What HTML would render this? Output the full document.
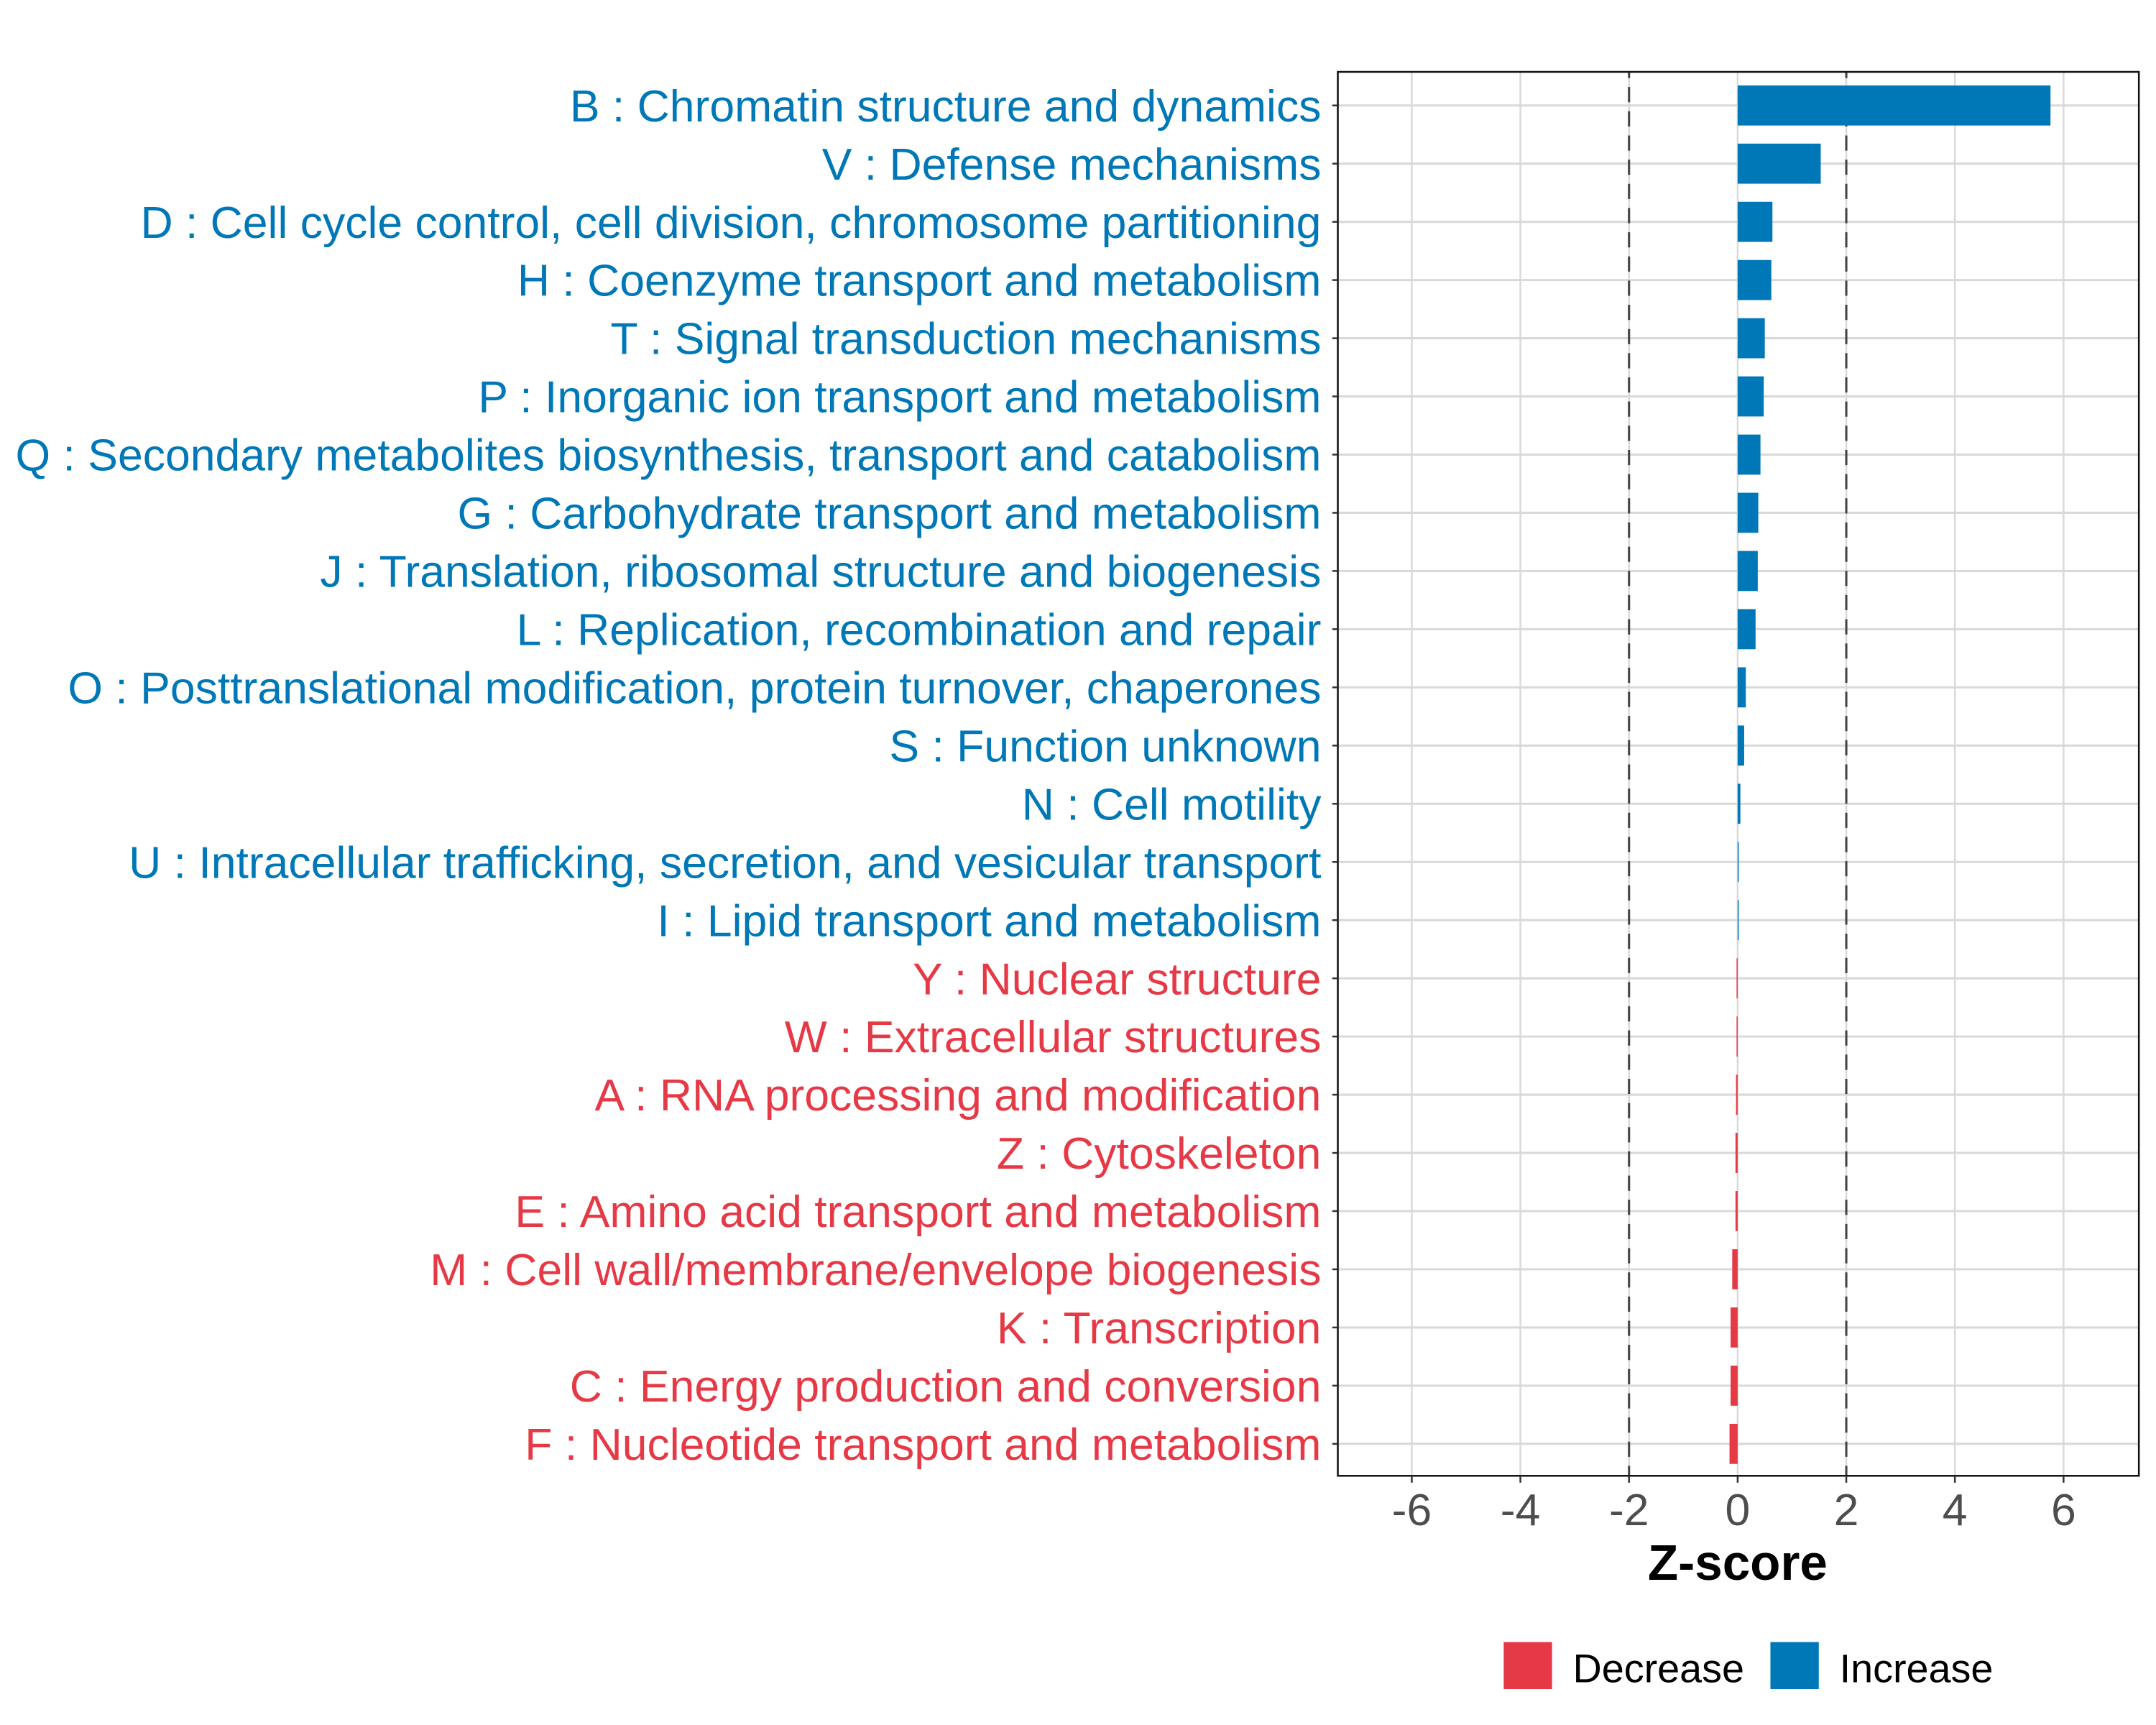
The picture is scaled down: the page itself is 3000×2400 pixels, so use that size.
<!DOCTYPE html>
<html><head><meta charset="utf-8"><style>
html,body{margin:0;padding:0;background:#fff;}
svg{display:block;}
text{font-family:"Liberation Sans",Arial,sans-serif;}
</style></head><body>
<svg id="chart" width="3000" height="2400" viewBox="0 0 1560 1248" preserveAspectRatio="none" xmlns="http://www.w3.org/2000/svg"></svg>
<script>
const categories = ["B : Chromatin structure and dynamics","V : Defense mechanisms","D : Cell cycle control, cell division, chromosome partitioning","H : Coenzyme transport and metabolism","T : Signal transduction mechanisms","P : Inorganic ion transport and metabolism","Q : Secondary metabolites biosynthesis, transport and catabolism","G : Carbohydrate transport and metabolism","J : Translation, ribosomal structure and biogenesis","L : Replication, recombination and repair","O : Posttranslational modification, protein turnover, chaperones","S : Function unknown","N : Cell motility","U : Intracellular trafficking, secretion, and vesicular transport","I : Lipid transport and metabolism","Y : Nuclear structure","W : Extracellular structures","A : RNA processing and modification","Z : Cytoskeleton","E : Amino acid transport and metabolism","M : Cell wall/membrane/envelope biogenesis","K : Transcription","C : Energy production and conversion","F : Nucleotide transport and metabolism"];
const zscores = [5.76,1.53,0.64,0.62,0.5,0.48,0.42,0.38,0.37,0.33,0.15,0.12,0.05,0.02,0.02,-0.02,-0.02,-0.03,-0.04,-0.04,-0.1,-0.13,-0.13,-0.15];
const xTicks = [-6,-4,-2,0,2,4,6];
const thresholds = [-2,2];
const legendLabels = ["Decrease","Increase"];

const NS="http://www.w3.org/2000/svg";
const svg=document.getElementById('chart');
const P={l:968,r:1547.6,t:52,b:1067.7};
const X0=1257.3, UNIT=39.3;
function xs(v){return X0+v*UNIT;}
const ROW0=76.3, ROWSTEP=42.1;
function ys(i){return ROW0+i*ROWSTEP;}
const BLUE="#0077B6", RED="#E63946";
function mk(tag,attrs,parent){const e=document.createElementNS(NS,tag);for(const k in attrs)e.setAttribute(k,attrs[k]);(parent||svg).appendChild(e);return e;}

const grid=mk('g',{});


xTicks.forEach(t=>{mk('line',{x1:xs(t),x2:xs(t),y1:P.t,y2:P.b,stroke:'#d9d9d9','stroke-width':1.3},grid);});
categories.forEach((c,i)=>{mk('line',{x1:P.l,x2:P.r,y1:ys(i),y2:ys(i),stroke:'#d9d9d9','stroke-width':1.6},grid);});

const dl=mk('g',{});


thresholds.forEach(t=>{mk('line',{x1:xs(t),x2:xs(t),y1:P.t,y2:P.b,stroke:'#444','stroke-width':1.6,'stroke-dasharray':'11 6.5','stroke-dashoffset':'-11'},dl);});

const bars=mk('g',{});


const BH=29;
zscores.forEach((v,i)=>{
  const x=Math.min(xs(0),xs(v)), w=Math.max(Math.abs(xs(v)-xs(0)),0.6);
  const r=mk('rect',{x:x,y:ys(i)-BH/2,width:w,height:BH,fill:v>=0?BLUE:RED},bars);
  
  
});

const frame=mk('rect',{x:P.l,y:P.t,width:P.r-P.l,height:P.b-P.t,fill:'none',stroke:'#111','stroke-width':1.3});



const yl=mk('g',{});


categories.forEach((c,i)=>{
  mk('line',{x1:P.l-4,x2:P.l,y1:ys(i),y2:ys(i),stroke:'#333','stroke-width':1.3},yl);
  const t=mk('text',{x:956,y:ys(i)+11.5,'text-anchor':'end','font-size':32.5,fill:zscores[i]>=0?BLUE:RED},yl);
  t.textContent=c;
  
  
});

const xl=mk('g',{});


xTicks.forEach(t=>{
  mk('line',{x1:xs(t),x2:xs(t),y1:P.b,y2:P.b+5,stroke:'#333','stroke-width':1.3},xl);
  const tx=mk('text',{x:xs(t),y:1103.5,'text-anchor':'middle','font-size':32.5,fill:'#4d4d4d'},xl);
  tx.textContent=t;
  
  
});
const xt=mk('text',{x:xs(0),y:1143,'text-anchor':'middle','font-size':36,'font-weight':'bold',fill:'#000'});
xt.textContent="Z-score";



const lg=mk('g',{});


const legendColors=[RED,BLUE];
const legendX=[1088,1281];
legendLabels.forEach((l,i)=>{
  const g=mk('g',{},lg);
  
  
  mk('rect',{x:legendX[i],y:1188,width:35,height:34,fill:legendColors[i]},g);
  const t=mk('text',{x:legendX[i]+50,y:1217,'font-size':29,fill:'#000'},g);
  t.textContent=l;
});
</script>
</body></html>
